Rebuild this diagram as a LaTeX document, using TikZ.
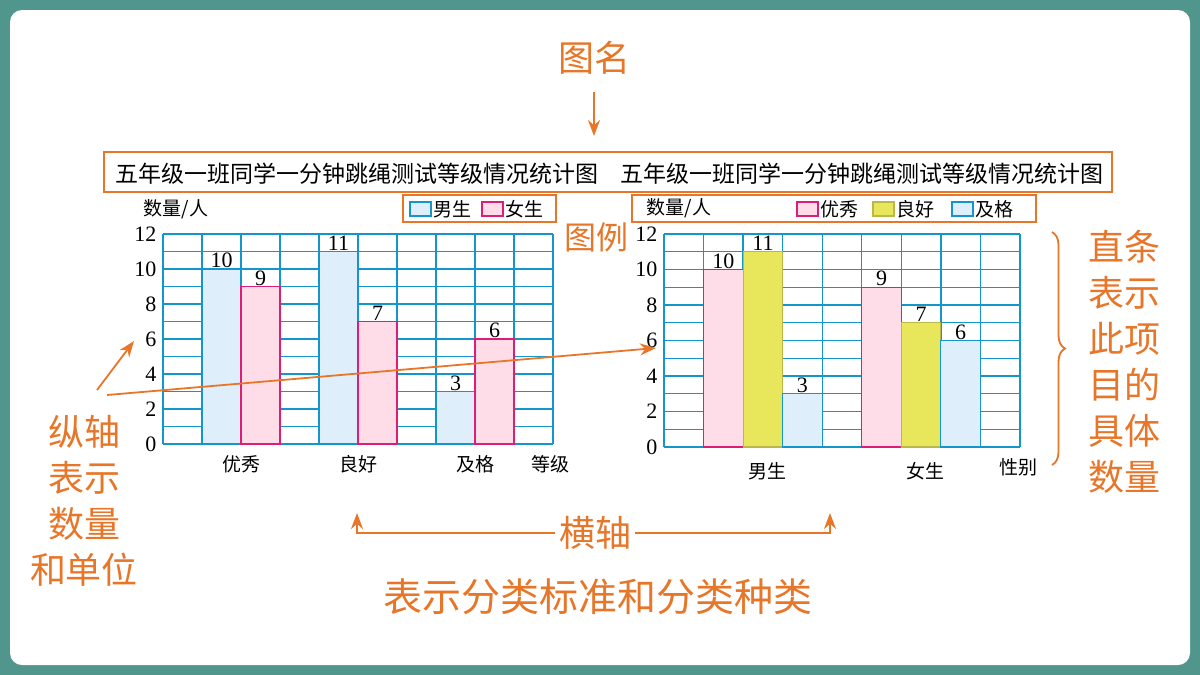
\documentclass[tikz,border=0pt]{standalone}
\usepackage{fontspec}
\setmainfont{Liberation Serif}
\newfontfamily\cjk{Noto Sans CJK SC}
\usetikzlibrary{arrows.meta,decorations.pathreplacing}
\definecolor{orn}{RGB}{232,118,40}
\definecolor{grd}{RGB}{20,150,205}
\definecolor{bfill}{RGB}{222,238,250}
\definecolor{pfill}{RGB}{255,221,232}
\definecolor{pbord}{RGB}{220,30,120}
\definecolor{yfill}{RGB}{232,230,90}
\definecolor{teal}{RGB}{80,150,140}
\tikzset{
 ann/.style={text=orn,font=\cjk\fontsize{36}{46}\selectfont},
 oarr/.style={draw=orn,line width=1.8pt,-{Stealth[length=16pt,width=12pt]}},
 obox/.style={draw=orn,line width=2.2pt},
 lab/.style={font=\cjk\fontsize{19}{20}\selectfont},
 num/.style={font=\fontsize{22}{22}\selectfont},
 boy/.style={draw=grd,fill=bfill,line width=1.2pt},
 girl/.style={draw=pbord,fill=pfill,line width=1.2pt},
 yel/.style={draw=yfill!80!black,fill=yfill,line width=1.2pt},
}
\begin{document}
\begin{tikzpicture}[x=1pt,y=-1pt]
\useasboundingbox (0,0) rectangle (1200,675);
\fill[teal] (0,0) rectangle (1200,675);
\fill[white,rounded corners=12pt] (10,10) rectangle (1190,665);
% titles
\draw[obox] (104,152) rectangle (1112,192);
\node[font=\cjk\fontsize{23}{24}\selectfont] (t1) at (357,174) {五年级一班同学一分钟跳绳测试等级情况统计图};
\node[font=\cjk\fontsize{23}{24}\selectfont] (t2) at (862,174) {五年级一班同学一分钟跳绳测试等级情况统计图};
% left chart
\fill[white] (163,234) rectangle (553,444);
\foreach \k in {0,...,12} \draw[grd,line width=1.3pt] (163,{444-17.5*\k}) -- (553,{444-17.5*\k});
\foreach \k in {0,...,10} \draw[grd,line width=1.3pt] ({163+39*\k},234) -- ({163+39*\k},444);
\foreach \k in {0,2,...,12} \node[num,anchor=east] (ly\k) at (160,{444-17.5*\k}) {\k};
\foreach \c/\h/\s in {1/10/boy,2/9/girl,4/11/boy,5/7/girl,7/3/boy,8/6/girl}{
 \draw[\s] ({163+39*\c},444) rectangle ({202+39*\c},{444-17.5*\h});
 \node[num,anchor=south,inner sep=1pt] at ({182.5+39*\c},{444-17.5*\h}) {\h};}
\node[lab] (l1) at (241,464) {优秀};
\node[lab] (l2) at (358,464) {良好};
\node[lab] (l3) at (475,464) {及格};
\node[lab] (l4) at (550,464) {等级};
\node[lab] (ylab1) at (176,209) {数量/人};
\draw[obox] (403,195) rectangle (556,222);
\draw[boy] (410,202) rectangle (431,216); \node[lab,anchor=west,inner sep=1pt] (lg1) at (432,209) {男生};
\draw[girl] (482,202) rectangle (503,216); \node[lab,anchor=west,inner sep=1pt] (lg2) at (504,209) {女生};
% right chart
\fill[white] (664,234) rectangle (1020,447);
\foreach \k in {0,...,12} \draw[grd,line width=1.3pt] (664,{447-17.75*\k}) -- (1020,{447-17.75*\k});
\foreach \k in {0,...,9} \draw[grd,line width=1.3pt] ({664+39.55*\k},234) -- ({664+39.55*\k},447);
\foreach \k in {0,2,...,12} \node[num,anchor=east] (ry\k) at (661,{447-17.75*\k}) {\k};
\foreach \c/\h/\s in {1/10/girl,2/11/yel,3/3/boy,5/9/girl,6/7/yel,7/6/boy}{
 \draw[\s] ({664+39.55*\c},447) rectangle ({703.55+39.55*\c},{447-17.75*\h});
 \node[num,anchor=south,inner sep=1pt] at ({683.8+39.55*\c},{447-17.75*\h}) {\h};}
\node[lab] (r1) at (767,471) {男生};
\node[lab] (r2) at (925,471) {女生};
\node[lab] (r3) at (1018,467) {性别};
\node[lab] (ylab2) at (679,208) {数量/人};
\draw[obox] (632,195) rectangle (1036,222);
\draw[girl] (797,202) rectangle (818,216); \node[lab,anchor=west,inner sep=1pt] (lg3) at (819,209) {优秀};
\draw[yel] (873,202) rectangle (894,216); \node[lab,anchor=west,inner sep=1pt] (lg4) at (895,209) {良好};
\draw[boy] (952,202) rectangle (973,216); \node[lab,anchor=west,inner sep=1pt] (lg5) at (974,209) {及格};
% annotations
\node[ann] (tm) at (594,58) {图名};
\coordinate (tmA) at (594,92); \coordinate (tmB) at (594,136);
\draw[oarr] (tmA) -- (tmB);
\node[ann,font=\cjk\fontsize{32}{34}\selectfont] (tl) at (596,237) {图例};
\draw[orn,line width=1.8pt,decorate,decoration={brace,amplitude=13pt}] (1052,232) -- (1052,465);
\node[ann,align=center] (zt) at (1124,362) {直条\\表示\\此项\\目的\\具体\\数量};
\node[ann,align=center] (zz) at (84,501) {纵轴\\表示\\数量\\和单位};
\coordinate (a1) at (97,390); \coordinate (a2) at (134,341);
\draw[oarr] (a1) -- (a2);
\coordinate (b1) at (107,395); \coordinate (b2) at (656,348);
\draw[oarr] (b1) -- (b2);
\node[ann] (hz) at (595,533) {横轴};
\coordinate (c1) at (357,533); \coordinate (c2) at (357,513);
\coordinate (d1) at (830,533); \coordinate (d2) at (830,513);
\draw[oarr] (hz.west) -- (c1) -- (c2);
\draw[oarr] (hz.east) -- (d1) -- (d2);
\node[ann,font=\cjk\fontsize{39}{40}\selectfont] (bs) at (598,597) {表示分类标准和分类种类};
\end{tikzpicture}
\end{document}
